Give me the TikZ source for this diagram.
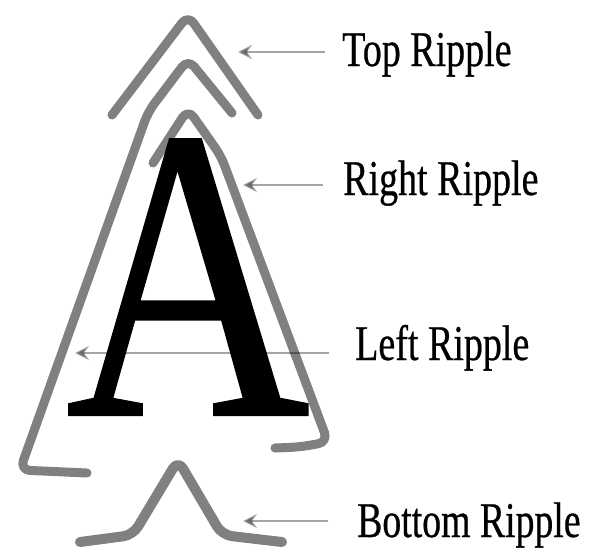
\documentclass[tikz,border=0pt]{standalone}
\usepackage{fontspec}
\setmainfont{Liberation Serif}
\newfontfamily\bigAfont[FakeBold=0.5]{Liberation Serif}
\newfontfamily\lblfont[FakeBold=0.6]{Liberation Serif}
\usetikzlibrary{arrows.meta}
\definecolor{ripplegray}{RGB}{128,128,128}
\definecolor{arrowgray}{RGB}{165,165,165}
\tikzset{
  ripple/.style={draw=ripplegray, line width=9pt, line cap=round, line join=round, rounded corners=10pt},
  pointer/.style={draw=arrowgray, line width=2.8pt, -{Stealth[length=14pt,width=14pt,inset=5pt]}},
  lbl/.style={inner sep=0pt, anchor=base west, font=\lblfont\fontsize{50}{55}\selectfont},
}
\begin{document}
\begin{tikzpicture}[x=1pt,y=-1pt]
\useasboundingbox (0,0) rectangle (598,552);
% ripples
\draw[ripple] (112,115) -- (188,15) -- (258,115);
\draw[ripple] (87,473) -- (20,470) -- (148,112) -- (188,59) -- (232,113);
\draw[ripple] (153,163) -- (188,109) -- (221,156) -- (328,442) -- (300,447) -- (275,448);
\draw[ripple, line width=10pt] (80,542) -- (133,535) -- (178,460) -- (222,535) -- (282,542);
% labels
\node[lbl] (top) at (342,66) {\scalebox{0.76}[1]{Top Ripple}};
\node[lbl] (right) at (343,195) {\scalebox{0.76}[1]{Right Ripple}};
\node[lbl] (left) at (355,360) {\scalebox{0.76}[1]{Left Ripple}};
\node[lbl] (bottom) at (357,537) {\scalebox{0.755}[1]{Bottom Ripple}};
% arrow ends
\coordinate (topS) at (325,52);   \coordinate (topT) at (238,52);
\coordinate (rightS) at (323,185); \coordinate (rightT) at (243,185);
\coordinate (leftS) at (329,353); \coordinate (leftT) at (75,353);
\coordinate (botS) at (328,521);  \coordinate (botT) at (243,521);
\begin{scope}[blend mode=multiply]
\draw[pointer] (topS) -- (topT);
\draw[pointer] (rightS) -- (rightT);
\draw[pointer] (leftS) -- (leftT);
\draw[pointer] (botS) -- (botT);
\end{scope}
% big letter
\node[inner sep=0pt, anchor=base] (letterA) at (188,415) {\scalebox{0.81}[1]{\bigAfont\fontsize{418}{418}\selectfont A}};
\end{tikzpicture}
\end{document}
